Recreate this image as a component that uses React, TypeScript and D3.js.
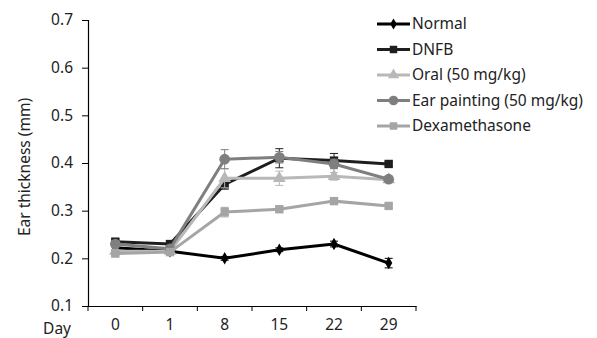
import React, { useEffect, useRef } from "react";
import * as d3 from "d3";

const days = ["0", "1", "8", "15", "22", "29"];
const yTicks = [0.1, 0.2, 0.3, 0.4, 0.5, 0.6, 0.7];

const seriesNames = ["Normal", "DNFB", "Oral (50 mg/kg)", "Ear painting (50 mg/kg)", "Dexamethasone"];
const normal = [0.222, 0.215, 0.2, 0.218, 0.23, 0.19];
const dnfb = [0.235, 0.23, 0.355, 0.41, 0.405, 0.398];
const oral = [0.215, 0.215, 0.368, 0.368, 0.372, 0.365];
const earPainting = [0.23, 0.22, 0.408, 0.412, 0.398, 0.366];
const dexamethasone = [0.21, 0.213, 0.297, 0.303, 0.32, 0.31];

const normalErr = [0.004, 0.003, 0.004, 0.004, 0.006, 0.01];
const dnfbErr = [0.005, 0.004, 0.01, 0.02, 0.015, 0.005];
const oralErr = [0.004, 0.004, 0.02, 0.015, 0.008, 0.006];
const earErr = [0.006, 0.004, 0.02, 0.012, 0.01, 0.006];
const dexaErr = [0.004, 0.004, 0.01, 0.006, 0.005, 0.005];

const colors = ["#000000", "#1e1e1e", "#b8b8b8", "#7f7f7f", "#a5a5a5"];
const symbols = [d3.symbolDiamond, d3.symbolSquare, d3.symbolTriangle, d3.symbolCircle, d3.symbolSquare];
const symbolSizes = [45, 70, 70, 90, 70];

export default function App() {
  const ref = useRef<SVGSVGElement>(null);
  const width = 597;
  const height = 338;

  useEffect(() => {
    const svg = d3.select(ref.current);
    svg.selectAll("*").remove();

    const margin = { top: 20, left: 88, bottom: 32 };
    const plotRight = 416;
    const font = "'Noto Sans', 'Open Sans', sans-serif";
    const fs = "15.5px";

    const x = d3.scaleBand().domain(days).range([margin.left, plotRight]).padding(0);
    const y = d3.scaleLinear().domain([0.1, 0.7]).range([height - margin.bottom, margin.top]);

    // y axis
    const yAxis = svg.append("g")
      .attr("transform", `translate(${margin.left},0)`)
      .call(d3.axisLeft(y).tickValues(yTicks).tickFormat(d3.format(".1f")).tickSize(6).tickPadding(9));
    yAxis.select(".domain").attr("stroke", "#000").attr("stroke-width", 1.2);
    yAxis.selectAll("line").attr("stroke", "#000");
    yAxis.selectAll("text").style("font-family", font).style("font-size", fs).attr("fill", "#222");

    // x axis
    const xAxis = svg.append("g")
      .attr("transform", `translate(0,${y(0.1)})`)
      .call(d3.axisBottom(x).tickSize(0).tickPadding(13));
    xAxis.select(".domain").attr("stroke", "#000").attr("stroke-width", 1.2);
    xAxis.selectAll("text").style("font-family", font).style("font-size", fs).attr("fill", "#222");
    const edges = days.map((d) => x(d)!).concat([plotRight]);
    xAxis.selectAll(".edge")
      .data(edges)
      .join("line")
      .attr("x1", (d) => d).attr("x2", (d) => d)
      .attr("y1", 0).attr("y2", 5)
      .attr("stroke", "#000");

    svg.append("text")
      .attr("x", 71).attr("y", y(0.1) + 28)
      .attr("text-anchor", "end")
      .style("font-family", font).style("font-size", fs).attr("fill", "#222")
      .text("Day");

    svg.append("text")
      .attr("transform", `translate(25,${(y(0.7) + y(0.1)) / 2 + 4}) rotate(-90)`)
      .attr("text-anchor", "middle")
      .attr("dy", "0.35em")
      .style("font-family", font).style("font-size", fs).attr("fill", "#222")
      .text("Ear thickness (mm)");

    const allSeries = [normal, dnfb, oral, earPainting, dexamethasone];
    const allErr = [normalErr, dnfbErr, oralErr, earErr, dexaErr];
    const cx = (i: number) => x(days[i])! + x.bandwidth() / 2;

    const line = d3.line<number>().x((_, i) => cx(i)).y((d) => y(d));

    allSeries.forEach((vals, s) => {
      const g = svg.append("g");
      const errs = allErr[s];
      // error bars
      vals.forEach((v, i) => {
        const e = errs[i];
        g.append("line").attr("x1", cx(i)).attr("x2", cx(i)).attr("y1", y(v - e)).attr("y2", y(v + e)).attr("stroke", colors[s]).attr("stroke-width", 1);
        [v - e, v + e].forEach((b) => {
          g.append("line").attr("x1", cx(i) - 4).attr("x2", cx(i) + 4).attr("y1", y(b)).attr("y2", y(b)).attr("stroke", colors[s]).attr("stroke-width", 1);
        });
      });
      g.append("path")
        .attr("d", line(vals))
        .attr("fill", "none")
        .attr("stroke", colors[s])
        .attr("stroke-width", 3);
      g.selectAll(".m")
        .data(vals)
        .join("path")
        .attr("transform", (d, i) => `translate(${cx(i)},${y(d)})`)
        .attr("d", d3.symbol().type(symbols[s]).size(symbolSizes[s])())
        .attr("fill", colors[s]);
    });

    // legend
    const legend = svg.append("g").attr("transform", "translate(377,24)");
    seriesNames.forEach((name, s) => {
      const row = legend.append("g").attr("transform", `translate(0,${s * 25.5})`);
      row.append("line").attr("x1", 0).attr("x2", 33).attr("y1", 0).attr("y2", 0).attr("stroke", colors[s]).attr("stroke-width", 3);
      row.append("path")
        .attr("transform", "translate(16.5,0)")
        .attr("d", d3.symbol().type(symbols[s]).size(symbolSizes[s] * 0.8)())
        .attr("fill", colors[s]);
      row.append("text")
        .attr("x", 35).attr("y", 0).attr("dy", "0.35em")
        .style("font-family", font).style("font-size", fs).attr("fill", "#222")
        .text(name);
    });
  }, []);

  return (
    <svg ref={ref} width={width} height={height} style={{ position: "absolute", left: 0, top: 0, background: "#fff" }}></svg>
  );
}
